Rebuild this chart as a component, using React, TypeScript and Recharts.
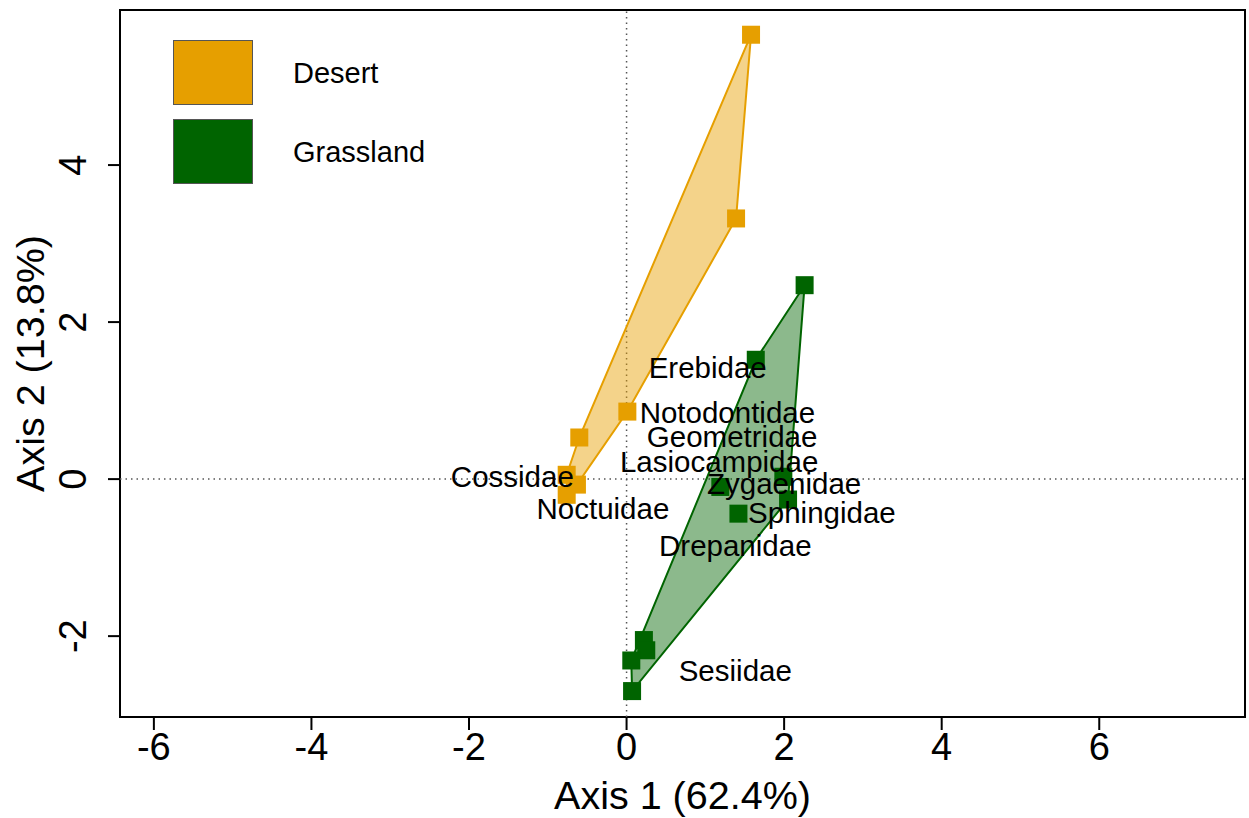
import React from 'react';
import {
  ScatterChart,
  Scatter,
  XAxis,
  YAxis,
  ReferenceLine,
  ReferenceArea,
  Legend,
} from 'recharts';

// site scores on the first two ordination axes
const desertX = [1.58, 1.39, 0.01, -0.6, -0.76, -0.63, -0.76];
const desertY = [5.66, 3.32, 0.86, 0.53, 0.055, -0.07, -0.2];

const grassX = [2.26, 1.64, 1.99, 2.05, 1.42, 1.19, 0.22, 0.25, 0.06, 0.07];
const grassY = [2.47, 1.52, 0.03, -0.26, -0.44, -0.1, -2.05, -2.18, -2.31, -2.7];

// family (species) scores
const families = [
  'Erebidae',
  'Notodontidae',
  'Geometridae',
  'Lasiocampidae',
  'Zygaenidae',
  'Sphingidae',
  'Drepanidae',
  'Sesiidae',
  'Cossidae',
  'Noctuidae',
];
const familyX = [1.03, 1.28, 1.34, 1.175, 2.0, 2.48, 1.38, 1.38, -1.45, -0.3];
const familyY = [1.42, 0.85, 0.545, 0.22, -0.05, -0.42, -0.84, -2.43, 0.03, -0.37];

const xTicks = [-6, -4, -2, 0, 2, 4, 6];
const yTicks = [-2, 0, 2, 4];
const xDomain: [number, number] = [-6.43, 7.85];
const yDomain: [number, number] = [-3.03, 5.975];

const FONT = '"Liberation Sans", Arial, Helvetica, sans-serif';
const DESERT = '#E69F00';
const GRASS = '#006400';

type Pt = { x: number; y: number; name?: string };

const zip = (xs: number[], ys: number[]): Pt[] => xs.map((x, i) => ({ x, y: ys[i] }));

// monotone chain convex hull, returned closed (first point repeated)
function convexHull(pts: Pt[]): Pt[] {
  const p = [...pts].sort((a, b) => a.x - b.x || a.y - b.y);
  const cross = (o: Pt, a: Pt, b: Pt) => (a.x - o.x) * (b.y - o.y) - (a.y - o.y) * (b.x - o.x);
  const lower: Pt[] = [];
  for (const q of p) {
    while (lower.length >= 2 && cross(lower[lower.length - 2], lower[lower.length - 1], q) <= 0) lower.pop();
    lower.push(q);
  }
  const upper: Pt[] = [];
  for (const q of [...p].reverse()) {
    while (upper.length >= 2 && cross(upper[upper.length - 2], upper[upper.length - 1], q) <= 0) upper.pop();
    upper.push(q);
  }
  lower.pop();
  upper.pop();
  const h = lower.concat(upper);
  return [...h, h[0]];
}

const desertPts = zip(desertX, desertY);
const grassPts = zip(grassX, grassY);
const familyPts: Pt[] = families.map((name, i) => ({ x: familyX[i], y: familyY[i], name }));

const groups = [
  { name: 'Desert', color: DESERT },
  { name: 'Grassland', color: GRASS },
];

const square = (color: string) => (props: any) => (
  <rect x={props.cx - 9} y={props.cy - 9} width={18} height={18} fill={color} />
);

const noShape = () => <g />;

const FamilyLabel = (props: any) => (
  <text
    x={props.cx}
    y={props.cy}
    dy="0.36em"
    textAnchor="middle"
    fontSize={29.5}
    fontFamily={FONT}
    fill="#000"
  >
    {props.payload?.name}
  </text>
);

const YTick = (props: any) => {
  const { x, y, payload } = props;
  return (
    <text
      x={x}
      y={y}
      transform={`rotate(-90 ${x} ${y})`}
      textAnchor="middle"
      fontSize={38}
      fontFamily={FONT}
      fill="#000"
    >
      {payload.value}
    </text>
  );
};

const LegendBox = () => (
  <div style={{ fontFamily: FONT, fontSize: 29, color: '#000' }}>
    {groups.map((g) => (
      <div key={g.name} style={{ display: 'flex', alignItems: 'center', height: 65, marginBottom: 14 }}>
        <div
          style={{
            width: 80,
            height: 65,
            background: g.color,
            border: '1px solid #555',
            boxSizing: 'border-box',
          }}
        />
        <span style={{ marginLeft: 40, position: 'relative', top: 1 }}>{g.name}</span>
      </div>
    ))}
  </div>
);

export default function App() {
  return (
    <div style={{ position: 'absolute', left: 0, top: 0, background: '#fff' }}>
      <ScatterChart width={1249} height={818} margin={{ top: 10, right: 4, bottom: 0, left: 0 }}>
        <XAxis
          type="number"
          dataKey="x"
          domain={xDomain}
          ticks={xTicks}
          interval={0}
          allowDataOverflow
          height={101}
          axisLine={false}
          stroke="#000"
          tickLine={{ stroke: '#000', strokeWidth: 2 }}
          tickSize={13}
          tickMargin={3}
          tick={{ fill: '#000', fontSize: 38, fontFamily: FONT }}
          label={{
            value: 'Axis 1 (62.4%)',
            position: 'insideBottom',
            offset: 9,
            style: { fontSize: 39.5, fill: '#000', fontFamily: FONT },
          }}
        />
        <YAxis
          type="number"
          dataKey="y"
          domain={yDomain}
          ticks={yTicks}
          interval={0}
          allowDataOverflow
          width={120}
          axisLine={false}
          stroke="#000"
          tickLine={{ stroke: '#000', strokeWidth: 2 }}
          tickSize={12}
          tickMargin={22}
          tick={<YTick />}
          label={{
            value: 'Axis 2 (13.8%)',
            angle: -90,
            position: 'insideLeft',
            offset: 30,
            style: { fontSize: 39.5, fill: '#000', fontFamily: FONT, textAnchor: 'middle' },
          }}
        />

        <ReferenceLine x={0} stroke="#555" strokeWidth={1.5} strokeDasharray="1.5 4" />
        <ReferenceLine y={0} stroke="#555" strokeWidth={1.5} strokeDasharray="1.5 4" />

        {/* group hulls */}
        <Scatter
          data={convexHull(desertPts)}
          line={{ stroke: DESERT, strokeWidth: 2, fill: DESERT, fillOpacity: 0.46 }}
          lineType="joint"
          shape={noShape}
          legendType="none"
          isAnimationActive={false}
        />
        <Scatter
          data={convexHull(grassPts)}
          line={{ stroke: GRASS, strokeWidth: 2, fill: GRASS, fillOpacity: 0.45 }}
          lineType="joint"
          shape={noShape}
          legendType="none"
          isAnimationActive={false}
        />

        {/* sites */}
        <Scatter name="Desert" data={desertPts} fill={DESERT} shape={square(DESERT)} isAnimationActive={false} />
        <Scatter name="Grassland" data={grassPts} fill={GRASS} shape={square(GRASS)} isAnimationActive={false} />

        {/* families */}
        <Scatter data={familyPts} shape={FamilyLabel} legendType="none" isAnimationActive={false} />

        <ReferenceArea
          x1={xDomain[0]}
          x2={xDomain[1]}
          y1={yDomain[0]}
          y2={yDomain[1]}
          ifOverflow="visible"
          fill="none"
          stroke="#000"
          strokeWidth={2}
        />

        <Legend
          layout="horizontal"
          verticalAlign="middle"
          align="center"
          wrapperStyle={{ top: 40, left: 173, width: 'auto' }}
          content={() => <LegendBox />}
        />
      </ScatterChart>
    </div>
  );
}
